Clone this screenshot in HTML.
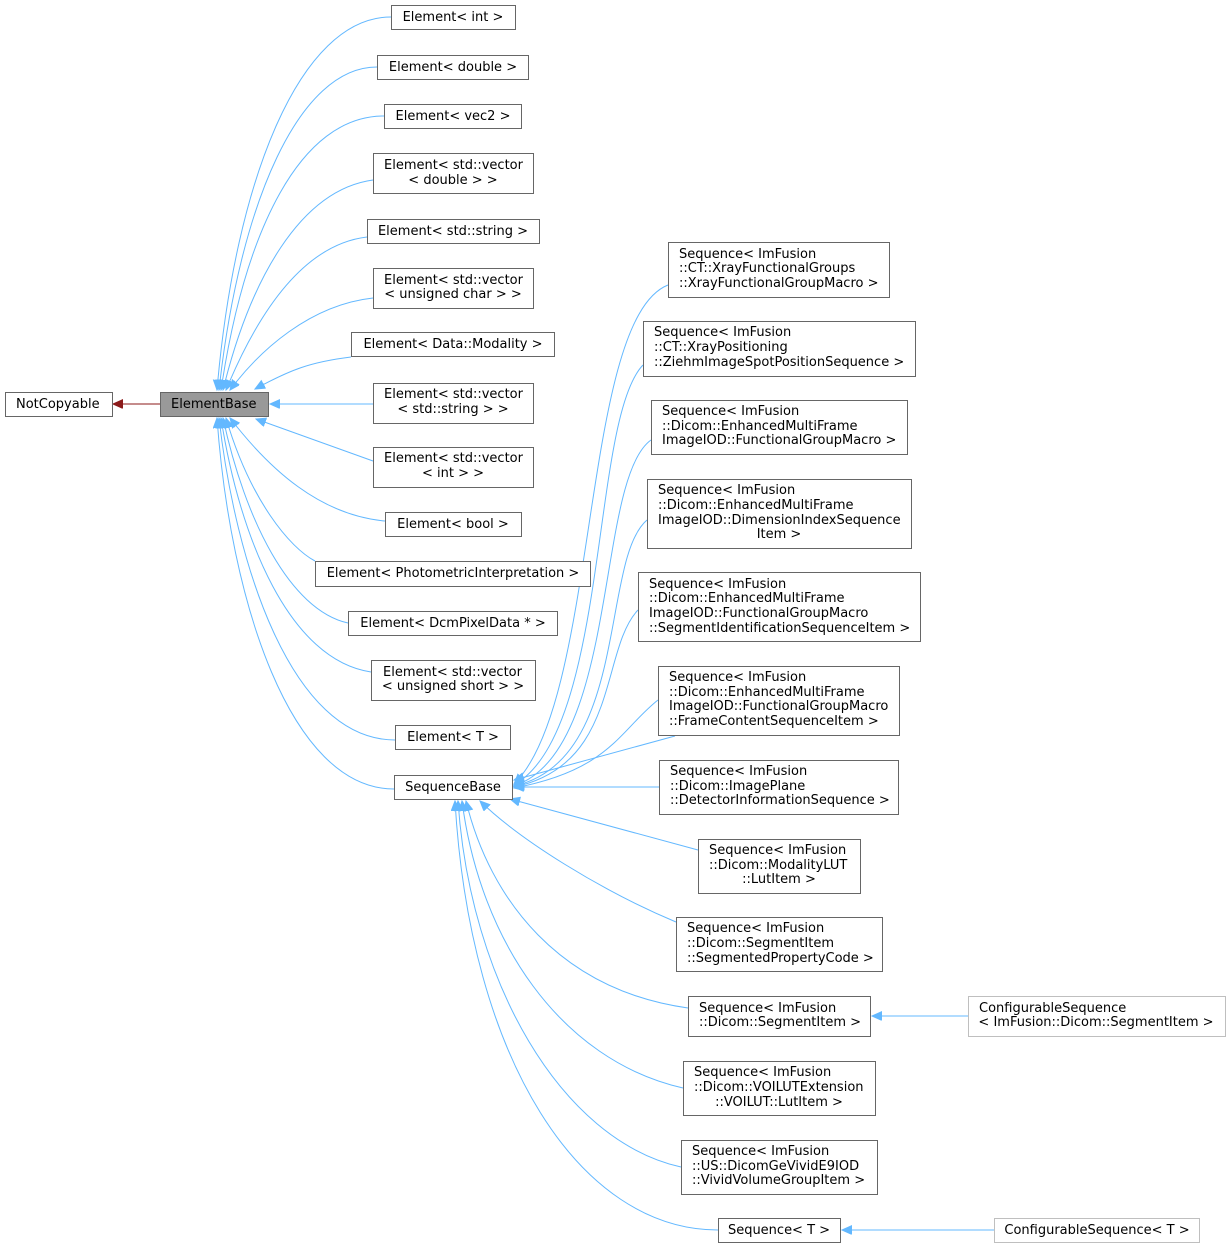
<!DOCTYPE html>
<html><head><meta charset="utf-8"><style>
html,body{margin:0;padding:0;background:#fff;}
svg{display:block;}
text{font-family:"DejaVu Sans","Liberation Sans",sans-serif;font-size:13px;fill:#000;}
.n{fill:#fff;stroke:#666;stroke-width:1;}
.g{fill:#fff;stroke:#bfbfbf;stroke-width:1;}
.e{fill:none;stroke:#63b8ff;stroke-width:1;}
</style></head><body>
<svg width="1231" height="1249" viewBox="0 0 1231 1249" xmlns="http://www.w3.org/2000/svg">
<defs>
<marker id="a" markerUnits="userSpaceOnUse" markerWidth="12" markerHeight="10" refX="10" refY="4.5" orient="auto"><path d="M0,0 L10,4.5 L0,9 Z" fill="#63b8ff" stroke="#63b8ff"/></marker>
<marker id="r" markerUnits="userSpaceOnUse" markerWidth="12" markerHeight="10" refX="10" refY="4.5" orient="auto"><path d="M0,0 L10,4.5 L0,9 Z" fill="#8b1a1a" stroke="#8b1a1a"/></marker>
</defs>

<g class="e">
<path d="M160,404 L113,404" stroke="#8b1a1a" marker-end="url(#r)"/>
<path d="M391,17 C300,17 235,180 217,390" marker-end="url(#a)"/>
<path d="M377,67 C300,67 240,200 219,390" marker-end="url(#a)"/>
<path d="M384,116 C300,116 245,230 221,390" marker-end="url(#a)"/>
<path d="M373,180 C300,190 250,280 223,390" marker-end="url(#a)"/>
<path d="M367,237 C300,245 255,320 226,390" marker-end="url(#a)"/>
<path d="M373,298 C310,305 260,350 230,390" marker-end="url(#a)"/>
<path d="M351,357 C310,362 290,370 255,389" marker-end="url(#a)"/>
<path d="M373,404 L270,404" marker-end="url(#a)"/>
<path d="M373,461 L256,419" marker-end="url(#a)"/>
<path d="M385,521 C320,515 270,470 230,418" marker-end="url(#a)"/>
<path d="M315,561 C290,548 250,500 226,418" marker-end="url(#a)"/>
<path d="M348,623 C290,610 245,520 223,418" marker-end="url(#a)"/>
<path d="M371,672 C290,660 240,540 221,418" marker-end="url(#a)"/>
<path d="M395,740 C290,740 235,560 219,418" marker-end="url(#a)"/>
<path d="M394,789 C290,789 230,600 217,418" marker-end="url(#a)"/>
</g>

<g class="e">
<path d="M668,285 C580,320 600,700 514,784" marker-end="url(#a)"/>
<path d="M643,365 C590,420 610,730 514,785" marker-end="url(#a)"/>
<path d="M651,440 C595,480 620,750 514,786" marker-end="url(#a)"/>
<path d="M647,520 C600,560 630,760 514,786" marker-end="url(#a)"/>
<path d="M638,610 C600,650 620,765 514,787" marker-end="url(#a)"/>
<path d="M658,700 C620,730 610,770 514,788" marker-end="url(#a)"/>
<path d="M675,736 L514,780" marker-end="url(#a)"/>
<path d="M659,787 L514,787" marker-end="url(#a)"/>
<path d="M698,850 L510,799" marker-end="url(#a)"/>
<path d="M676,922 C600,890 520,840 480,801" marker-end="url(#a)"/>
<path d="M688,1008 C560,990 490,900 466,801" marker-end="url(#a)"/>
<path d="M683,1088 C560,1060 480,940 462,801" marker-end="url(#a)"/>
<path d="M681,1167 C560,1140 470,980 458,801" marker-end="url(#a)"/>
<path d="M718,1230 C580,1230 470,1060 455,801" marker-end="url(#a)"/>
<path d="M968,1016 L872,1016" marker-end="url(#a)"/>
<path d="M994,1230 L842,1230" marker-end="url(#a)"/>
</g>

<g>
<rect class="n" x="5.5" y="392.5" width="107" height="24"/>
<rect x="160.5" y="392.5" width="108" height="24" fill="#999" stroke="#666"/>
<rect class="n" x="391.5" y="5.5" width="124" height="24"/>
<rect class="n" x="377.5" y="55.5" width="151" height="24"/>
<rect class="n" x="384.5" y="104.5" width="137" height="24"/>
<rect class="n" x="373.5" y="153.5" width="160" height="40"/>
<rect class="n" x="367.5" y="219.5" width="172" height="24"/>
<rect class="n" x="373.5" y="268.5" width="160" height="40"/>
<rect class="n" x="351.5" y="332.5" width="203" height="24"/>
<rect class="n" x="373.5" y="383.5" width="160" height="40"/>
<rect class="n" x="373.5" y="447.5" width="160" height="40"/>
<rect class="n" x="385.5" y="512.5" width="136" height="24"/>
<rect class="n" x="315.5" y="561.5" width="275" height="25"/>
<rect class="n" x="348.5" y="611.5" width="209" height="24"/>
<rect class="n" x="371.5" y="660.5" width="164" height="40"/>
<rect class="n" x="395.5" y="725.5" width="115" height="24"/>
<rect class="n" x="394.5" y="775.5" width="118" height="24"/>
<rect class="n" x="668.5" y="242.5" width="221" height="55"/>
<rect class="n" x="643.5" y="321.5" width="272" height="55"/>
<rect class="n" x="651.5" y="400.5" width="256" height="54"/>
<rect class="n" x="647.5" y="479.5" width="264" height="69"/>
<rect class="n" x="638.5" y="572.5" width="282" height="69"/>
<rect class="n" x="658.5" y="666.5" width="241" height="69"/>
<rect class="n" x="659.5" y="760.5" width="239" height="54"/>
<rect class="n" x="698.5" y="839.5" width="162" height="54"/>
<rect class="n" x="676.5" y="917.5" width="206" height="54"/>
<rect class="n" x="688.5" y="996.5" width="182" height="40"/>
<rect class="n" x="683.5" y="1061.5" width="192" height="54"/>
<rect class="n" x="681.5" y="1140.5" width="196" height="54"/>
<rect class="n" x="718.5" y="1218.5" width="122" height="24"/>
<rect class="g" x="968.5" y="996.5" width="257" height="40"/>
<rect class="g" x="994.5" y="1218.5" width="205" height="24"/>
</g>

<g transform="translate(0,-1)">
<text x="16" y="409">NotCopyable</text>
<text x="171" y="409">ElementBase</text>
<text x="453" y="22" text-anchor="middle">Element&lt; int &gt;</text>
<text x="453" y="72" text-anchor="middle">Element&lt; double &gt;</text>
<text x="453" y="121" text-anchor="middle">Element&lt; vec2 &gt;</text>
<text x="384" y="170">Element&lt; std::vector</text><text x="453" y="185" text-anchor="middle">&lt; double &gt; &gt;</text>
<text x="453" y="236" text-anchor="middle">Element&lt; std::string &gt;</text>
<text x="384" y="285">Element&lt; std::vector</text><text x="453" y="299" text-anchor="middle">&lt; unsigned char &gt; &gt;</text>
<text x="453" y="349" text-anchor="middle">Element&lt; Data::Modality &gt;</text>
<text x="384" y="399">Element&lt; std::vector</text><text x="453" y="414" text-anchor="middle">&lt; std::string &gt; &gt;</text>
<text x="384" y="463">Element&lt; std::vector</text><text x="453" y="478" text-anchor="middle">&lt; int &gt; &gt;</text>
<text x="453" y="529" text-anchor="middle">Element&lt; bool &gt;</text>
<text x="453" y="578" text-anchor="middle">Element&lt; PhotometricInterpretation &gt;</text>
<text x="453" y="628" text-anchor="middle">Element&lt; DcmPixelData * &gt;</text>
<text x="383" y="677">Element&lt; std::vector</text><text x="453" y="691" text-anchor="middle">&lt; unsigned short &gt; &gt;</text>
<text x="453" y="742" text-anchor="middle">Element&lt; T &gt;</text>
<text x="453" y="792" text-anchor="middle">SequenceBase</text>
<text x="679" y="259">Sequence&lt; ImFusion</text><text x="679" y="273">::CT::XrayFunctionalGroups</text><text x="679" y="288">::XrayFunctionalGroupMacro &gt;</text>
<text x="654" y="337">Sequence&lt; ImFusion</text><text x="654" y="352">::CT::XrayPositioning</text><text x="654" y="367">::ZiehmImageSpotPositionSequence &gt;</text>
<text x="662" y="416">Sequence&lt; ImFusion</text><text x="662" y="431">::Dicom::EnhancedMultiFrame</text><text x="662" y="445">ImageIOD::FunctionalGroupMacro &gt;</text>
<text x="658" y="495">Sequence&lt; ImFusion</text><text x="658" y="510">::Dicom::EnhancedMultiFrame</text><text x="658" y="525">ImageIOD::DimensionIndexSequence</text><text x="779" y="539" text-anchor="middle">Item &gt;</text>
<text x="649" y="589">Sequence&lt; ImFusion</text><text x="649" y="603">::Dicom::EnhancedMultiFrame</text><text x="649" y="618">ImageIOD::FunctionalGroupMacro</text><text x="649" y="633">::SegmentIdentificationSequenceItem &gt;</text>
<text x="669" y="682">Sequence&lt; ImFusion</text><text x="669" y="697">::Dicom::EnhancedMultiFrame</text><text x="669" y="711">ImageIOD::FunctionalGroupMacro</text><text x="669" y="726">::FrameContentSequenceItem &gt;</text>
<text x="670" y="776">Sequence&lt; ImFusion</text><text x="670" y="791">::Dicom::ImagePlane</text><text x="670" y="805">::DetectorInformationSequence &gt;</text>
<text x="709" y="855">Sequence&lt; ImFusion</text><text x="709" y="870">::Dicom::ModalityLUT</text><text x="779" y="884" text-anchor="middle">::LutItem &gt;</text>
<text x="687" y="933">Sequence&lt; ImFusion</text><text x="687" y="948">::Dicom::SegmentItem</text><text x="687" y="963">::SegmentedPropertyCode &gt;</text>
<text x="699" y="1013">Sequence&lt; ImFusion</text><text x="699" y="1027">::Dicom::SegmentItem &gt;</text>
<text x="694" y="1077">Sequence&lt; ImFusion</text><text x="694" y="1092">::Dicom::VOILUTExtension</text><text x="779" y="1107" text-anchor="middle">::VOILUT::LutItem &gt;</text>
<text x="692" y="1156">Sequence&lt; ImFusion</text><text x="692" y="1171">::US::DicomGeVividE9IOD</text><text x="692" y="1185">::VividVolumeGroupItem &gt;</text>
<text x="779" y="1235" text-anchor="middle">Sequence&lt; T &gt;</text>
<text x="979" y="1013">ConfigurableSequence</text><text x="1096" y="1027" text-anchor="middle">&lt; ImFusion::Dicom::SegmentItem &gt;</text>
<text x="1097" y="1235" text-anchor="middle">ConfigurableSequence&lt; T &gt;</text>
</g>
</svg>
</body></html>
